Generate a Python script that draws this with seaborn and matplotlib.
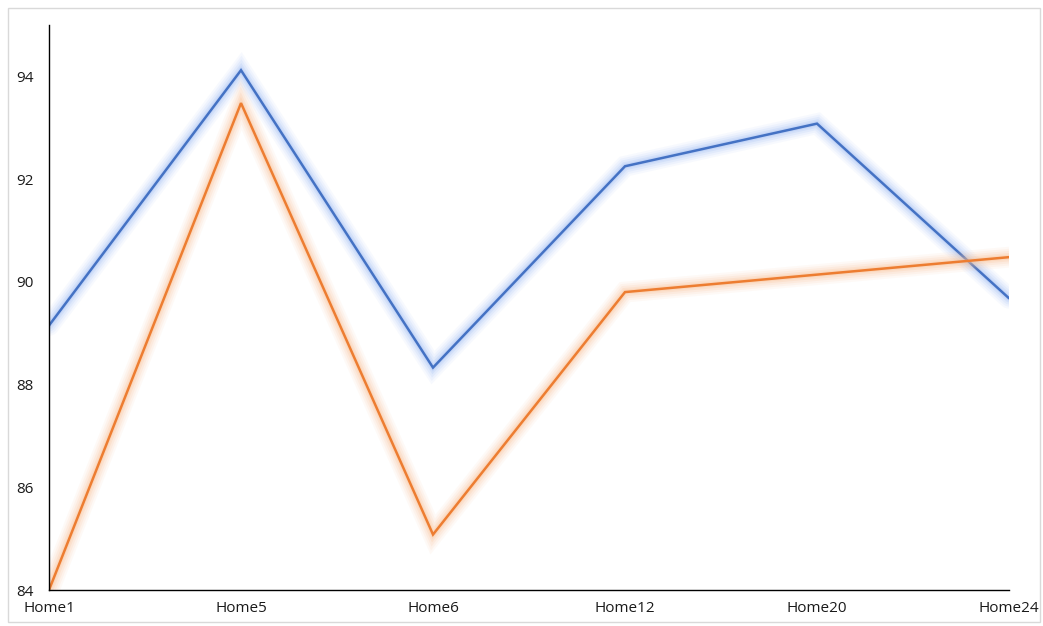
import matplotlib
matplotlib.use("Agg")
import matplotlib.pyplot as plt
import matplotlib.patheffects as pe
from matplotlib.patches import Rectangle
import seaborn as sns
import pandas as pd

homes = ["Home1", "Home5", "Home6", "Home12", "Home20", "Home24"]
series_blue = [89.15, 94.12, 88.33, 92.25, 93.08, 89.68]
series_orange = [84.0, 93.48, 85.08, 89.80, 90.14, 90.48]
y_ticks = [84, 86, 88, 90, 92, 94]

sns.set_theme(style="white")
plt.rcParams["font.family"] = ["Open Sans", "DejaVu Sans"]

df = pd.DataFrame({
    "home": homes * 2,
    "value": series_blue + series_orange,
    "series": ["A"] * len(homes) + ["B"] * len(homes),
})

fig = plt.figure(figsize=(10.43, 6.26), dpi=100)
ax = fig.add_axes([49 / 1043, 1 - 590 / 626, 960 / 1043, 565 / 626])

palette = {"A": "#4472C4", "B": "#ED7D31"}
glow = {"A": "#9DBBF5", "B": "#FBBE8F"}

sns.lineplot(data=df, x="home", y="value", hue="series", palette=palette,
             linewidth=1.8, sort=False, legend=False, ax=ax)

# soft halo under each line: stacked translucent strokes of growing width
for line, key in zip(ax.get_lines(), ["A", "B"]):
    effects = []
    for w, a in [(15, 0.08), (12, 0.10), (9, 0.14), (6, 0.20), (3.5, 0.25)]:
        effects.append(pe.Stroke(linewidth=w, foreground=glow[key], alpha=a))
    effects.append(pe.Normal())
    line.set_path_effects(effects)
    line.set_solid_joinstyle("miter")

ax.set_xlim(0, len(homes) - 1)
ax.set_ylim(84, 95)
ax.set_yticks(y_ticks)
ax.set_yticklabels([str(t) for t in y_ticks])
ax.set_xlabel("")
ax.set_ylabel("")
ax.tick_params(axis="both", length=0, labelsize=11, colors="#1a1a1a")
ax.tick_params(axis="y", pad=11)
ax.tick_params(axis="x", pad=8)

for side in ["top", "right"]:
    ax.spines[side].set_visible(False)
for side in ["left", "bottom"]:
    ax.spines[side].set_color("black")
    ax.spines[side].set_linewidth(1.0)

fig.patches.append(Rectangle((8 / 1043, 4 / 626), 1032 / 1043, 614 / 626,
                             transform=fig.transFigure, fill=False,
                             edgecolor="#D9D9D9", linewidth=1.0))

fig.savefig("out.png", dpi=100)
